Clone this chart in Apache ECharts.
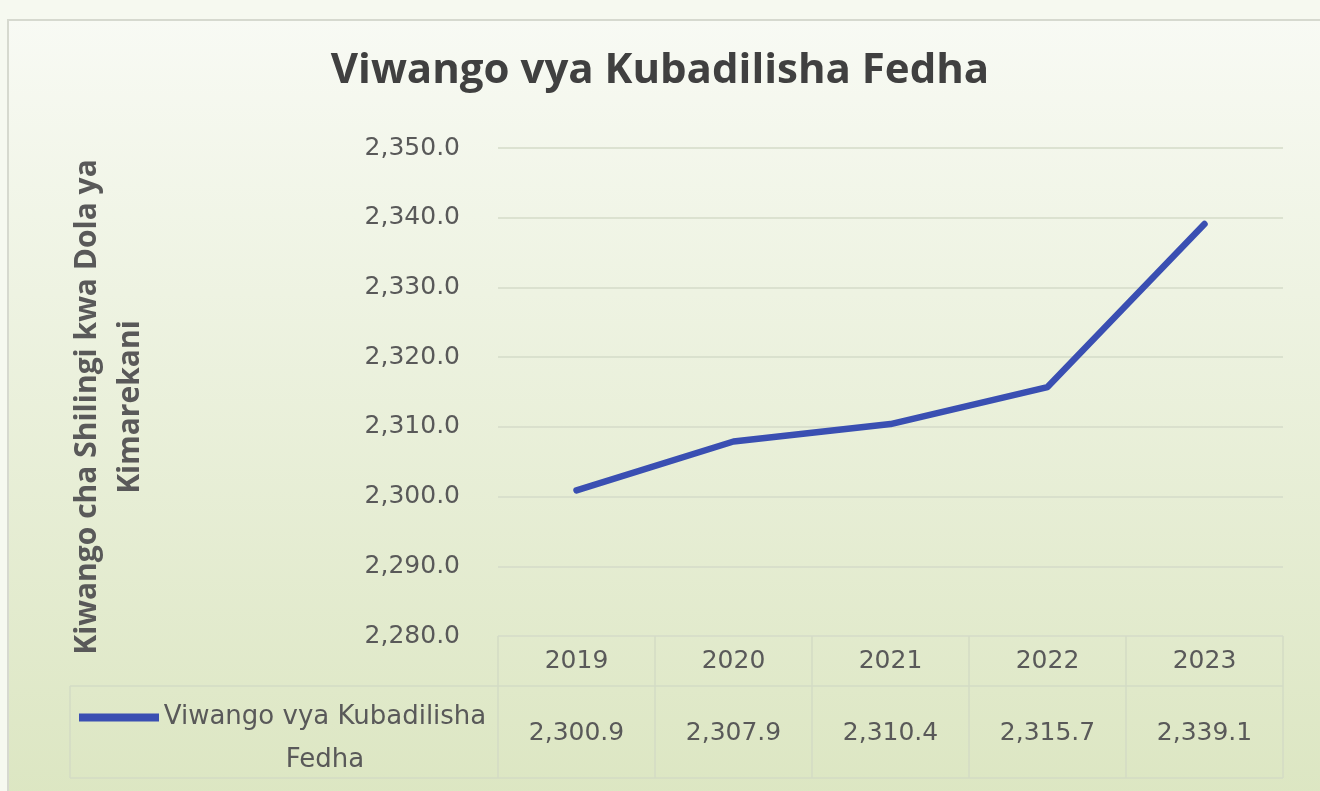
<!DOCTYPE html>
<html>
<head>
<meta charset="utf-8">
<script src="https://cdn.jsdelivr.net/npm/echarts@6/dist/echarts.min.js"></script>
<style>
html,body{margin:0;padding:0;background:#f6f9f0;}
#c{width:1320px;height:791px;}
</style>
</head>
<body>
<div id="c"></div>
<script>
const titleText = 'Viwango vya Kubadilisha Fedha';
const yAxisTitle = 'Kiwango cha Shilingi kwa Dola ya\nKimarekani';
const seriesName = 'Viwango vya Kubadilisha Fedha';
const years = ['2019', '2020', '2021', '2022', '2023'];
const rates = [2300.9, 2307.9, 2310.4, 2315.7, 2339.1];
const yTicks = { min: 2280, max: 2350, interval: 10 };

const fmt = v => v.toLocaleString('en-US', { minimumFractionDigits: 1, maximumFractionDigits: 1 });

const G = { left: 498, right: 37, top: 148, bottom: 155 };
const W = 1320, H = 791;
const plotL = G.left, plotR = W - G.right, plotB = H - G.bottom;
const colW = (plotR - plotL) / years.length;
const txt = '#595959';
const font = 'Open Sans';
const numFont = 'DejaVu Sans';

const tableLines = [];
const lineStyle = { stroke: '#d3dbc4', lineWidth: 1.5 };
tableLines.push({ type: 'line', shape: { x1: 70, y1: 686, x2: plotR, y2: 686 }, style: lineStyle, silent: true });
tableLines.push({ type: 'line', shape: { x1: 70, y1: 778, x2: plotR, y2: 778 }, style: lineStyle, silent: true });
tableLines.push({ type: 'line', shape: { x1: 70, y1: 686, x2: 70, y2: 778 }, style: lineStyle, silent: true });
for (let i = 0; i <= years.length; i++) {
  const x = plotL + i * colW;
  tableLines.push({ type: 'line', shape: { x1: x, y1: plotB, x2: x, y2: 778 }, style: lineStyle, silent: true });
}

const chart = echarts.init(document.getElementById('c'), null, { renderer: 'canvas' });
chart.setOption({
  backgroundColor: '#f6f9f0',
  animation: false,
  graphic: [
    {
      type: 'rect', z: -10, silent: true,
      shape: { x: 8, y: 20, width: 1320, height: 780 },
      style: {
        fill: new echarts.graphic.LinearGradient(0, 0, 0, 1, [
          { offset: 0, color: '#f8faf4' },
          { offset: 0.35, color: '#eef3e2' },
          { offset: 1, color: '#dce6c2' }
        ]),
        stroke: '#d6d9cf', lineWidth: 2
      }
    }
  ].concat(tableLines),
  title: {
    text: titleText,
    left: 'center',
    top: 45,
    textStyle: { fontFamily: font, fontSize: 42, fontWeight: 'bold', color: '#404040' }
  },
  legend: {
    left: 74,
    top: 648,
    icon: 'rect',
    itemWidth: 80,
    itemHeight: 8,
    itemGap: 6,
    selectedMode: false,
    formatter: () => '{e|}\n{a|Viwango vya Kubadilisha}\n{a|Fedha}',
    textStyle: {
      color: txt, fontFamily: numFont, fontSize: 26,
      rich: {
        e: { lineHeight: 43, height: 43 },
        a: { fontFamily: numFont, fontSize: 26, color: txt, lineHeight: 43, width: 322, align: 'center' }
      }
    },
    data: [seriesName]
  },
  grid: { left: G.left, right: G.right, top: G.top, bottom: G.bottom, containLabel: false },
  xAxis: [
    {
      type: 'category',
      data: years,
      position: 'bottom',
      axisLine: { show: false },
      axisTick: { show: false },
      axisLabel: { color: txt, fontFamily: numFont, fontSize: 25, margin: 13 }
    },
    {
      type: 'category',
      data: years,
      position: 'bottom',
      offset: 70,
      axisLine: { show: false },
      axisTick: { show: false },
      axisLabel: {
        color: txt, fontFamily: numFont, fontSize: 25, margin: 15,
        formatter: (v, i) => fmt(rates[i])
      }
    }
  ],
  yAxis: {
    type: 'value',
    min: yTicks.min,
    max: yTicks.max,
    interval: yTicks.interval,
    name: yAxisTitle,
    nameLocation: 'middle',
    nameRotate: 90,
    nameGap: 346,
    nameTextStyle: { color: txt, fontFamily: font, fontSize: 30, fontWeight: 'bold', lineHeight: 43, align: 'center', padding: [0, 30, 0, 0] },
    axisLine: { show: false },
    axisTick: { show: false },
    splitLine: { lineStyle: { color: '#d5dbc9', width: 1.5 } },
    axisLabel: { color: txt, fontFamily: numFont, fontSize: 25, margin: 38, formatter: v => fmt(v) }
  },
  series: [
    {
      name: seriesName,
      type: 'line',
      xAxisIndex: 0,
      data: rates,
      showSymbol: false,
      symbol: 'none',
      lineStyle: { color: '#3a4fb2', width: 6.5, cap: 'round', join: 'round' },
      itemStyle: { color: '#3a4fb2' }
    }
  ]
});
</script>
</body>
</html>
